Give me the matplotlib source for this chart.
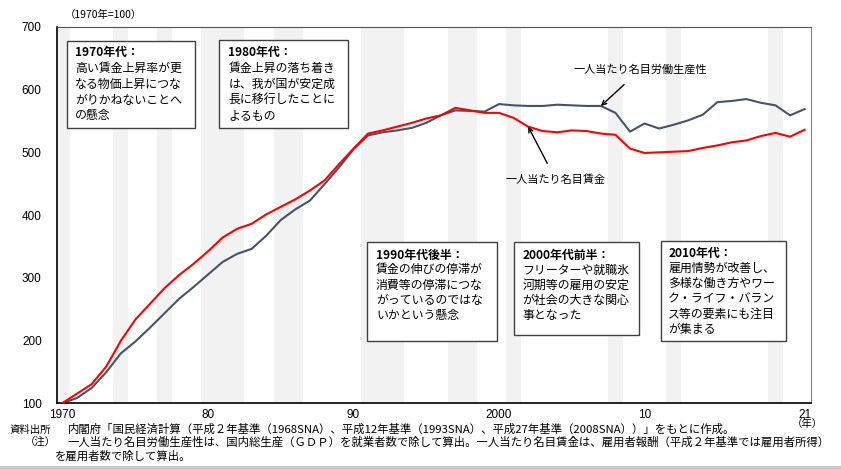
import matplotlib
matplotlib.use("Agg")
import matplotlib.pyplot as plt
from matplotlib.patches import Rectangle
import numpy as np

years = np.arange(1970, 2022)
wage = [100, 115, 130, 158, 199, 233, 258, 283, 304, 322,
        342, 364, 378, 386, 401, 413, 425, 439, 455, 481,
        506, 530, 535, 541, 547, 554, 559, 571, 567, 563,
        563, 555, 541, 534, 532, 535, 534, 530, 528, 506,
        499, 500, 501, 502, 507, 511, 516, 519, 526, 531,
        525, 536]
productivity = [100, 108, 124, 149, 179, 198, 220, 243, 266, 285,
                305, 325, 338, 346, 367, 392, 409, 423, 449, 476,
                505, 527, 532, 535, 539, 547, 559, 567, 566, 565,
                577, 575, 574, 574, 576, 575, 574, 574, 563, 533,
                546, 538, 544, 551, 560, 580, 582, 585, 579, 575,
                559, 569]
recession_years = [1970, 1974, 1977, 1980, 1981, 1982, 1985, 1986,
                   1991, 1992, 1993, 1997, 1998, 2001, 2008, 2012, 2019]
tick_years = [1970, 1980, 1990, 2000, 2010, 2021]
tick_labels = ["1970", "80", "90", "2000", "10", "21"]

JP = ["Noto Sans CJK JP", "DejaVu Sans"]
NUM = ["Liberation Sans Narrow", "Liberation Sans", "DejaVu Sans"]

W, H = 841, 469
fig = plt.figure(figsize=(W / 100, H / 100), dpi=100)
ax = fig.add_axes([57 / W, 1 - 403 / H, 754 / W, 376 / H])


def px(x, y):
    return x / W, 1 - y / H


for yr in recession_years:
    ax.axvspan(yr - 0.5, yr + 0.5, color="#f2f2f2", lw=0, zorder=0)

ax.plot(years, productivity, color="#44546a", lw=1.5, zorder=2)
ax.plot(years, wage, color="#ff0000", lw=1.5, zorder=3)

ax.set_xlim(1969.62, 2021.44)
ax.set_ylim(100, 700)
ax.set_yticks(range(100, 701, 100))
ax.set_xticks(tick_years)
ax.set_xticklabels(tick_labels)
ax.tick_params(axis="x", length=0, pad=4)
ax.tick_params(axis="y", length=0, pad=11)
for lab in ax.get_xticklabels() + ax.get_yticklabels():
    lab.set_family(NUM)
    lab.set_fontsize(8.5)
for s in ["left", "bottom"]:
    ax.spines[s].set_color("black")
    ax.spines[s].set_linewidth(1.2)
ax.spines["top"].set_color("#555555")
ax.spines["right"].set_color("#808080")

fig.text(*px(65, 15), "（1970年=100）", family=JP, fontsize=7.5, va="center", ha="left")
fig.text(*px(807, 424), "（年）", family=JP, fontsize=7.5, va="center", ha="center")

# comment boxes
boxes = [
    ((66.7, 40.7, 194.7, 128), 75, 52.3, 15.9,
     ["1970年代：", "高い賃金上昇率が更", "なる物価上昇につな", "がりかねないことへ", "の懸念"]),
    ((219.3, 40, 348.3, 127.7), 228.3, 52.3, 15.9,
     ["1980年代：", "賃金上昇の落ち着き", "は、我が国が安定成", "長に移行したことに", "よるもの"]),
    ((367.3, 242.3, 496.7, 340.7), 376, 255, 15,
     ["1990年代後半：", "賃金の伸びの停滞が", "消費等の停滞につな", "がっているのではな", "いかという懸念"]),
    ((514, 242.3, 639.3, 335), 522.3, 255, 15,
     ["2000年代前半：", "フリーターや就職氷", "河期等の雇用の安定", "が社会の大きな関心", "事となった"]),
    ((660.7, 240.7, 786.3, 340.7), 668.3, 253.3, 15.2,
     ["2010年代：", "雇用情勢が改善し、", "多様な働き方やワー", "ク・ライフ・バラン", "ス等の要素にも注目", "が集まる"]),
]
for (x0, y0, x1, y1), tx, ty, step, lines in boxes:
    fx, fy = px(x0, y1)
    fig.patches.append(Rectangle((fx, fy), (x1 - x0) / W, (y1 - y0) / H,
                                 transform=fig.transFigure, facecolor="white",
                                 edgecolor="#404040", lw=1.0, zorder=5))
    for i, line in enumerate(lines):
        fig.text(*px(tx, ty + i * step), line, family=JP, fontsize=8.6,
                 fontweight="bold" if i == 0 else "normal",
                 va="center", ha="left", zorder=6)

# series labels with arrows
ax.annotate("一人当たり名目労働生産性", xy=(2007, productivity[37]),
            xytext=px(640, 70), textcoords="figure fraction",
            ha="center", va="center", family=JP, fontsize=8,
            arrowprops=dict(arrowstyle="->", color="black", lw=1.0,
                            shrinkA=7, shrinkB=0))
ax.annotate("一人当たり名目賃金", xy=(2002, wage[32]),
            xytext=px(556, 180), textcoords="figure fraction",
            ha="center", va="center", family=JP, fontsize=8,
            arrowprops=dict(arrowstyle="->", color="black", lw=1.0,
                            shrinkA=7, shrinkB=0))

# source and notes
fig.text(*px(10, 429.5), "資料出所", family=JP, fontsize=7.5, va="center")
fig.text(*px(68, 429.5), "内閣府「国民経済計算（平成２年基準（1968SNA）、平成12年基準（1993SNA）、平成27年基準（2008SNA））」をもとに作成。",
         family=JP, fontsize=8.2, va="center")
fig.text(*px(25, 442), "（注）", family=JP, fontsize=7.5, va="center")
fig.text(*px(68, 442), "一人当たり名目労働生産性は、国内総生産（ＧＤＰ）を就業者数で除して算出。一人当たり名目賃金は、雇用者報酬（平成２年基準では雇用者所得）",
         family=JP, fontsize=8.2, va="center")
fig.text(*px(55, 456), "を雇用者数で除して算出。", family=JP, fontsize=8.2, va="center")

fx, fy = px(0, 469)
fig.patches.append(Rectangle((fx, fy), 1, 3.5 / H, transform=fig.transFigure,
                             facecolor="#c8c8c8", lw=0))

fig.savefig("out.png", dpi=100)
